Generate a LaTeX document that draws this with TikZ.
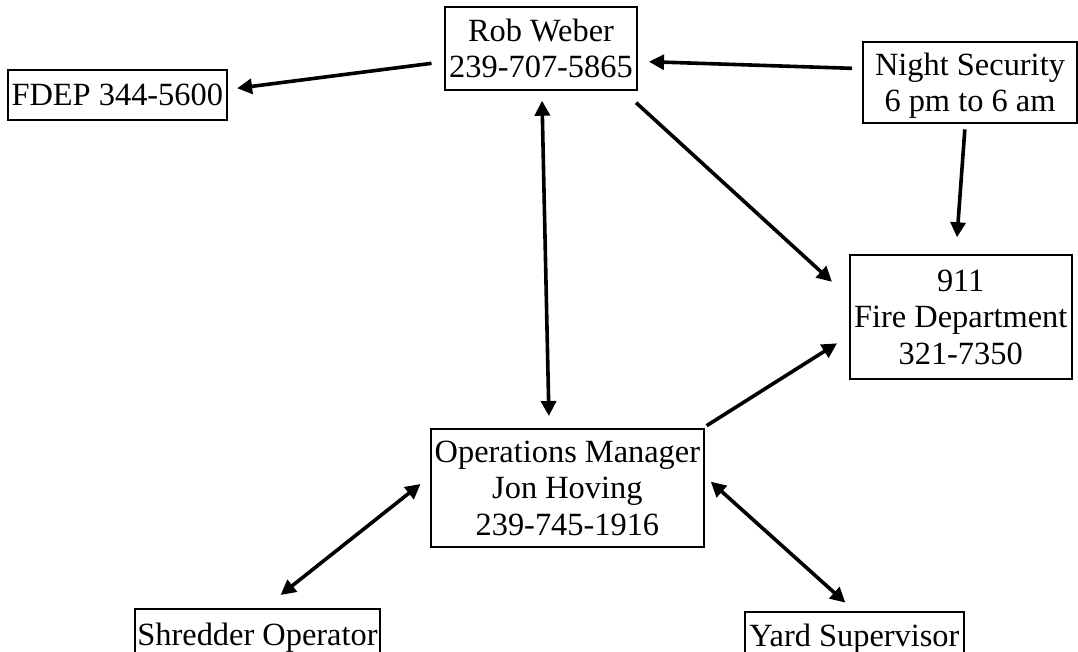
\documentclass[tikz,border=0pt]{standalone}
\usepackage{fontspec}
\setmainfont{Liberation Serif}
\usetikzlibrary{arrows.meta,positioning,calc}
\begin{document}
\begin{tikzpicture}[
x=0.5pt,y=-0.5pt,
box/.style={
  draw,
  line width=0.9pt,
  inner sep=0pt,
  outer sep=0pt,
  align=center,
  text depth=0pt,
  font=\fontsize{16.2pt}{18.25pt}\selectfont
},
arr/.style={
  line width=1.8pt,
  -{Triangle[length=7.5pt,width=7.5pt]}
},
twoarr/.style={
  line width=1.8pt,
  {Triangle[length=7.5pt,width=7.5pt]}-{Triangle[length=7.5pt,width=7.5pt]}
}
]
\useasboundingbox (0,0) rectangle (1078,652);
\node[box,minimum width=96pt,minimum height=41.5pt] at (541,48.5)
  (rob) {Rob Weber\\239-707-5865};
\node[box,minimum width=109.5pt,minimum height=25pt] at (117.3,95)
  (fdep) {FDEP 344-5600};
\node[box,minimum width=107pt,minimum height=40.5pt] at (970,82.5)
  (night) {Night Security\\6 pm to 6 am};
\node[box,minimum width=111pt,minimum height=62pt] at (960.7,317)
  (fire) {911\\Fire Department\\321-7350};
\node[box,minimum width=136.5pt,minimum height=59pt] at (567.4,488)
  (ops) {Operations Manager\\Jon Hoving\\239-745-1916};
\node[box,minimum width=122.5pt,minimum height=25pt] at (257.5,634)
  (shred) {Shredder Operator};
\node[box,minimum width=109.5pt,minimum height=23pt] at (854.5,635)
  (yard) {Yard Supervisor};

\draw[arr,shorten <=6.8pt,shorten >=5.2pt] ([yshift=-6.55pt]rob.west) -- ([yshift=2.7pt]fdep.east);
\draw[arr,shorten <=5.5pt,shorten >=6pt] ([yshift=6.9pt]night.west) -- ([yshift=-6.4pt]rob.east);
\draw[arr,shorten <=9.4pt,shorten >=12pt] ([xshift=40.6pt]rob.south) -- ([yshift=9.5pt]fire.west);
\draw[arr,shorten <=3.2pt,shorten >=8.9pt] ([xshift=-2.35pt]night.south) -- ([xshift=-2.5pt]fire.north);
\draw[twoarr,shorten <=5.35pt,shorten >=6.5pt] ([xshift=0.4pt]rob.south) -- ([xshift=-9.1pt]ops.north);
\draw[arr,shorten <=3.1pt,shorten >=7.5pt] ([xshift=-1.25pt]ops.north east) -- ([yshift=-9.15pt]fire.west);
\draw[twoarr,shorten <=6.6pt,shorten >=11.3pt] ([yshift=6.1pt]ops.west) -- ([xshift=2.7pt]shred.north);
\draw[twoarr,shorten <=4.6pt,shorten >=7pt] ([yshift=6.25pt]ops.east) -- ([xshift=0.65pt]yard.north);
\end{tikzpicture}
\end{document}
